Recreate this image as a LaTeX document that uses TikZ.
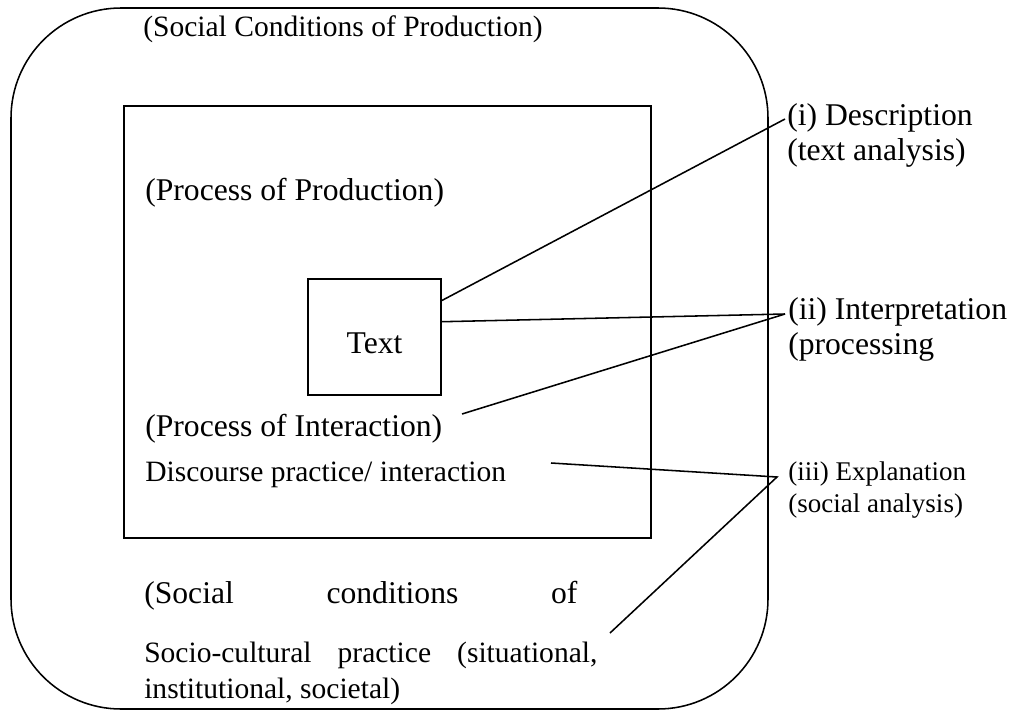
\documentclass[tikz,border=0pt]{standalone}
\usepackage{fontspec}
\setmainfont{Liberation Serif}
\usetikzlibrary{calc}

\begin{document}
\begin{tikzpicture}[x=0.025cm,y=-0.025cm]

    \tikzset{
      bigtxt/.style={
        font=\fontsize{22.5pt}{27pt}\selectfont,
        anchor=base west,
        inner sep=0pt,
      },
      medtxt/.style={
        bigtxt,
        font=\fontsize{21pt}{25pt}\selectfont,
      },
      smalltxt/.style={
        bigtxt,
        font=\fontsize{19.2pt}{23pt}\selectfont,
      },
      link/.style={line width=1.1pt},
    }
    \useasboundingbox (0,0) rectangle (1021,711);
	\draw[line width=1.1pt, rounded corners=2.75cm] (11,8) rectangle (768,709);
	\draw[line width=1.1pt] (124,106) rectangle (651,538);
	\node[draw, line width=1.1pt, minimum width=3.325cm, minimum height=2.9cm, inner sep=0pt,
	  text height=0.82cm, text depth=0cm,
	  font=\fontsize{22.5pt}{27pt}\selectfont] (txt) at (374.5,337) {Text};

	% labels inside the frames
	\node[medtxt] (socprod) at (143,36) {(Social Conditions of Production)};
	\node[bigtxt] (procprod) at (145,200) {(Process of Production)};
	\node[bigtxt] (procint) at (145,436) {(Process of Interaction)};
	\node[medtxt] (discpr) at (145,481) {Discourse practice/ interaction};
	\node[bigtxt] (socond) at (144,603) {\makebox[10.825cm][l]{(Social\hfill conditions\hfill of}};
	\node[medtxt] (sociocult) at (144,662) {\makebox[11.325cm][l]{Socio-cultural\hfill practice\hfill (situational,}};
	\node[medtxt] (societal) at (144,698) {institutional, societal)};

	% labels on the right
	\node[bigtxt] (descr) at (787,125) {(i) Description};
	\node[bigtxt] (textan) at (787,160) {(text analysis)};
	\node[bigtxt] (interp) at (788,319) {(ii) Interpretation};
	\node[bigtxt] (procg) at (788,354) {(processing};
	\node[smalltxt] (expl) at (788,480) {(iii) Explanation};
	\node[smalltxt] (socan) at (788,512) {(social analysis)};

	\coordinate (descend) at (785,119);
	\coordinate (interend) at (785,314);
	\coordinate (explend) at (777,477);
	\coordinate (interstart) at (462,414);
	\coordinate (discstart) at (551,463);
	\coordinate (sociostart) at (610,633);

	\draw[link] ($(txt.north east)!0.19!(txt.south east)$) -- (descend);
	\draw[link] ($(txt.north east)!0.37!(txt.south east)$) -- (interend);
	\draw[link] (interstart) -- (interend);
	\draw[link] (discstart) -- (explend) -- (sociostart);

\end{tikzpicture}
\end{document}
